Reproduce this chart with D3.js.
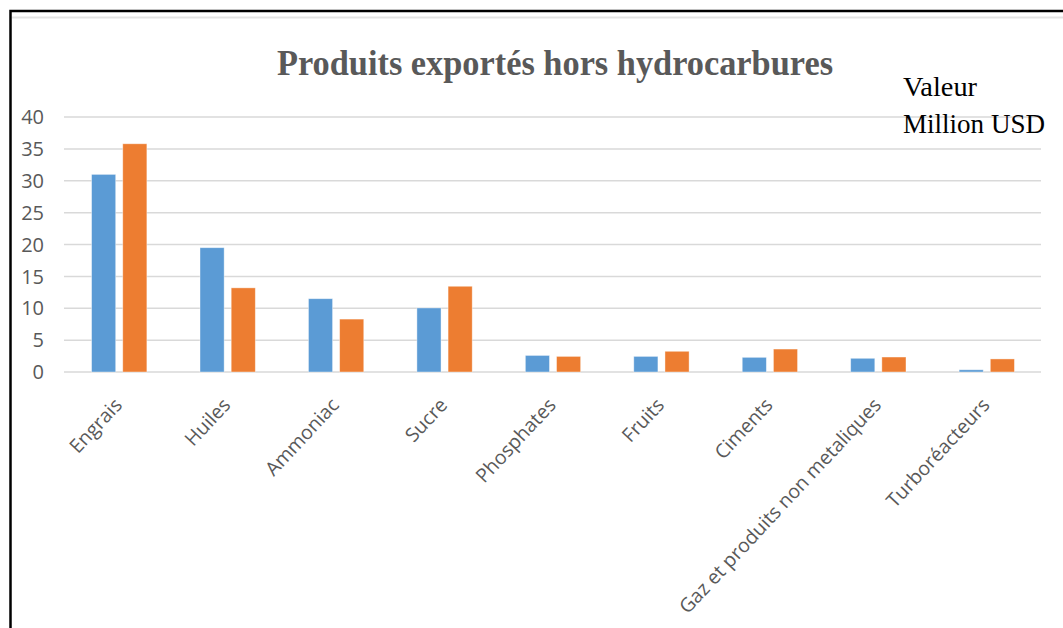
<!DOCTYPE html>
<html>
<head>
<meta charset="utf-8">
<script src="https://cdn.jsdelivr.net/npm/d3@7"></script>
<style>
  body { margin: 0; background: #fff; }
</style>
</head>
<body>
<div id="chart"></div>
<script>
// data (million USD)
const categories = ["Engrais", "Huiles", "Ammoniac", "Sucre", "Phosphates", "Fruits", "Ciments", "Gaz et produits non metaliques", "Turboréacteurs"];
const seriesNames = ["s1", "s2"];
const blueValues = [31, 19.5, 11.5, 10.05, 2.6, 2.45, 2.3, 2.15, 0.35];
const orangeValues = [35.8, 13.2, 8.3, 13.45, 2.45, 3.25, 3.6, 2.35, 2.05];
const yTicks = [0, 5, 10, 15, 20, 25, 30, 35, 40];
const colors = { s1: "#5B9BD5", s2: "#ED7D31" };

const width = 1063, height = 628;

const svg = d3.select("#chart")
  .append("svg")
  .attr("width", width)
  .attr("height", height);

// frame
svg.append("line")
  .attr("x1", 12).attr("x2", width).attr("y1", 17.5).attr("y2", 17.5)
  .attr("stroke", "#e3e3e3").attr("stroke-width", 2);
svg.append("rect")
  .attr("x", 10.5).attr("y", 11)
  .attr("width", width + 20).attr("height", height + 20)
  .attr("fill", "none").attr("stroke", "#000").attr("stroke-width", 2.5);

// scales
const x0 = d3.scaleBand()
  .domain(categories)
  .range([65, 1041])
  .paddingInner(0.49)
  .paddingOuter(0.245);

const x1 = d3.scaleBand()
  .domain(seriesNames)
  .range([0, x0.bandwidth()])
  .paddingInner(0.226);

const y = d3.scaleLinear().domain([0, 40]).range([372, 117]);

// gridlines
svg.append("g")
  .selectAll("line")
  .data(yTicks)
  .enter().append("line")
  .attr("x1", 64).attr("x2", 1041)
  .attr("y1", d => y(d)).attr("y2", d => y(d))
  .attr("stroke", "#d9d9d9").attr("stroke-width", 1.5);

// y tick labels
svg.append("g")
  .selectAll("text")
  .data(yTicks)
  .enter().append("text")
  .attr("x", 44)
  .attr("y", d => y(d))
  .attr("dy", "0.36em")
  .attr("text-anchor", "end")
  .style("font-family", "'Open Sans', sans-serif")
  .style("font-size", "20px")
  .style("fill", "#595959")
  .text(d => d);

// bars
const rows = categories.map((c, i) => ({ cat: c, s1: blueValues[i], s2: orangeValues[i] }));

const groups = svg.append("g")
  .selectAll("g")
  .data(rows)
  .enter().append("g")
  .attr("transform", d => `translate(${x0(d.cat)},0)`);

groups.selectAll("rect")
  .data(d => seriesNames.map(k => ({ key: k, value: d[k] })))
  .enter().append("rect")
  .attr("x", d => x1(d.key))
  .attr("y", d => y(d.value))
  .attr("width", x1.bandwidth())
  .attr("height", d => y(0) - y(d.value))
  .attr("fill", d => colors[d.key])
  .attr("stroke", "#fff")
  .attr("stroke-opacity", 0.5)
  .attr("stroke-width", 0.8);

// category labels, rotated
svg.append("g")
  .selectAll("text")
  .data(categories)
  .enter().append("text")
  .attr("transform", d => `translate(${x0(d) + x0.bandwidth() / 2 + 4},406) rotate(-47)`)
  .attr("text-anchor", "end")
  .style("font-family", "'Open Sans', sans-serif")
  .style("font-size", "19.5px")
  .style("fill", "#595959")
  .text(d => d);

// title
svg.append("text")
  .attr("x", 555)
  .attr("y", 75)
  .attr("text-anchor", "middle")
  .attr("textLength", 556)
  .attr("lengthAdjust", "spacingAndGlyphs")
  .style("font-family", "'Liberation Serif', 'Times New Roman', serif")
  .style("font-weight", "bold")
  .style("font-size", "36px")
  .style("fill", "#595959")
  .text("Produits exportés hors hydrocarbures");

// unit note
svg.append("text")
  .attr("x", 903).attr("y", 96)
  .attr("textLength", 74)
  .attr("lengthAdjust", "spacingAndGlyphs")
  .style("font-family", "'Liberation Serif', 'Times New Roman', serif")
  .style("font-size", "28px")
  .style("fill", "#000")
  .text("Valeur");
svg.append("text")
  .attr("x", 903).attr("y", 133)
  .attr("textLength", 142)
  .attr("lengthAdjust", "spacingAndGlyphs")
  .style("font-family", "'Liberation Serif', 'Times New Roman', serif")
  .style("font-size", "28px")
  .style("fill", "#000")
  .text("Million USD");
</script>
</body>
</html>
